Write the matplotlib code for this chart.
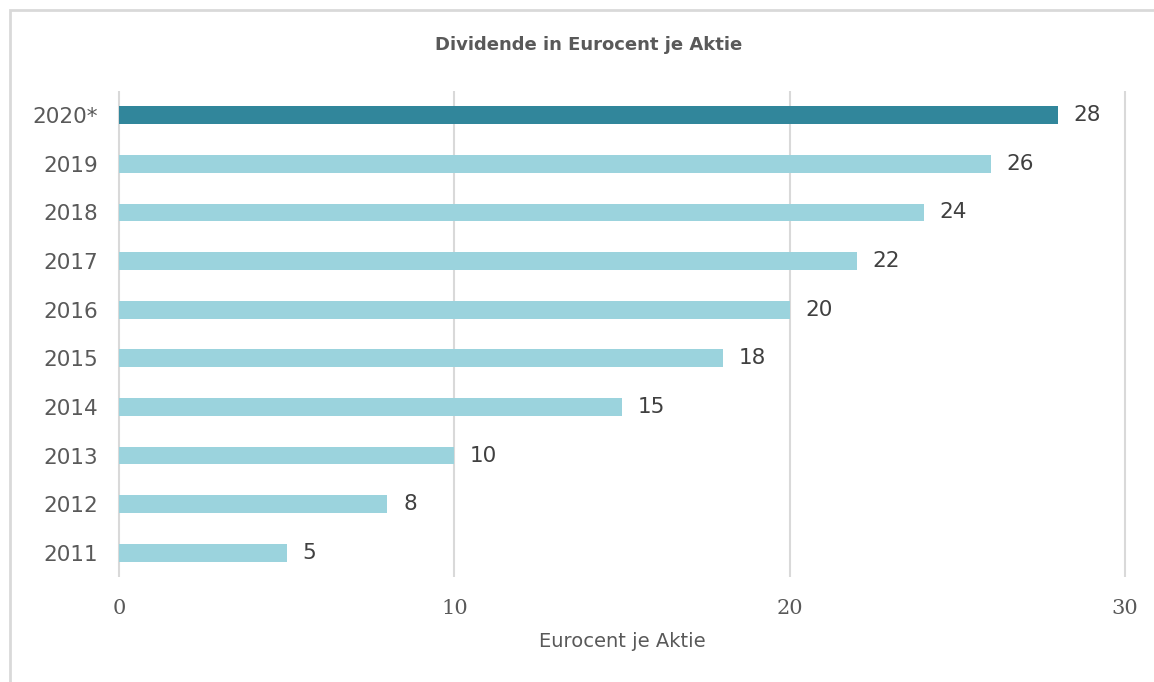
import matplotlib
matplotlib.use("Agg")
import matplotlib.pyplot as plt
from matplotlib.patches import Rectangle

jahre = ['2011', '2012', '2013', '2014', '2015', '2016', '2017', '2018', '2019', '2020*']
dividende = [5, 8, 10, 15, 18, 20, 22, 24, 26, 28]
farben = ['#9bd3dd'] * 9 + ['#31869b']
xticks = [0, 10, 20, 30]

plt.rcParams['font.family'] = ['DejaVu Sans']

fig = plt.figure(figsize=(11.54, 6.82), dpi=100)
ax = fig.add_axes([119/1154, 1 - 577/682, (1125 - 119)/1154, (577 - 91)/682])

y = range(len(jahre))
ax.barh(y, dividende, height=0.37, color=farben, zorder=3)
for i, v in enumerate(dividende):
    ax.text(v + 0.47, i, str(v), va='center', ha='left', fontsize=15.5, color='#404040')

# Gitterlinien, nicht abgeschnitten
ax.vlines(xticks, -0.5, len(jahre) - 0.5, color='#d9d9d9', linewidth=1.5, zorder=0, clip_on=False)

ax.set_xlim(0, 30)
ax.set_ylim(-0.5, len(jahre) - 0.5)
ax.set_yticks(list(y))
ax.set_yticklabels(jahre, fontsize=15.5, color='#595959')
ax.set_xticks(xticks)
ax.set_xticklabels([str(t) for t in xticks], fontsize=15, color='#595959',
                   family=['DejaVu Serif'])
ax.tick_params(axis='both', length=0)
ax.tick_params(axis='y', pad=15)
ax.tick_params(axis='x', pad=16)
for s in ax.spines.values():
    s.set_visible(False)

ax.set_xlabel('Eurocent je Aktie', fontsize=14, color='#595959', labelpad=10)
fig.text(589/1154, 1 - 45/682, 'Dividende in Eurocent je Aktie', ha='center', va='center',
         fontsize=13, fontweight='bold', color='#595959')

fig.patches.append(Rectangle((10/1154, -0.1), 1.2, 1 - 10/682 + 0.1, transform=fig.transFigure,
                             fill=False, edgecolor='#d9d9d9', linewidth=2))

fig.savefig('out.png', dpi=100)
